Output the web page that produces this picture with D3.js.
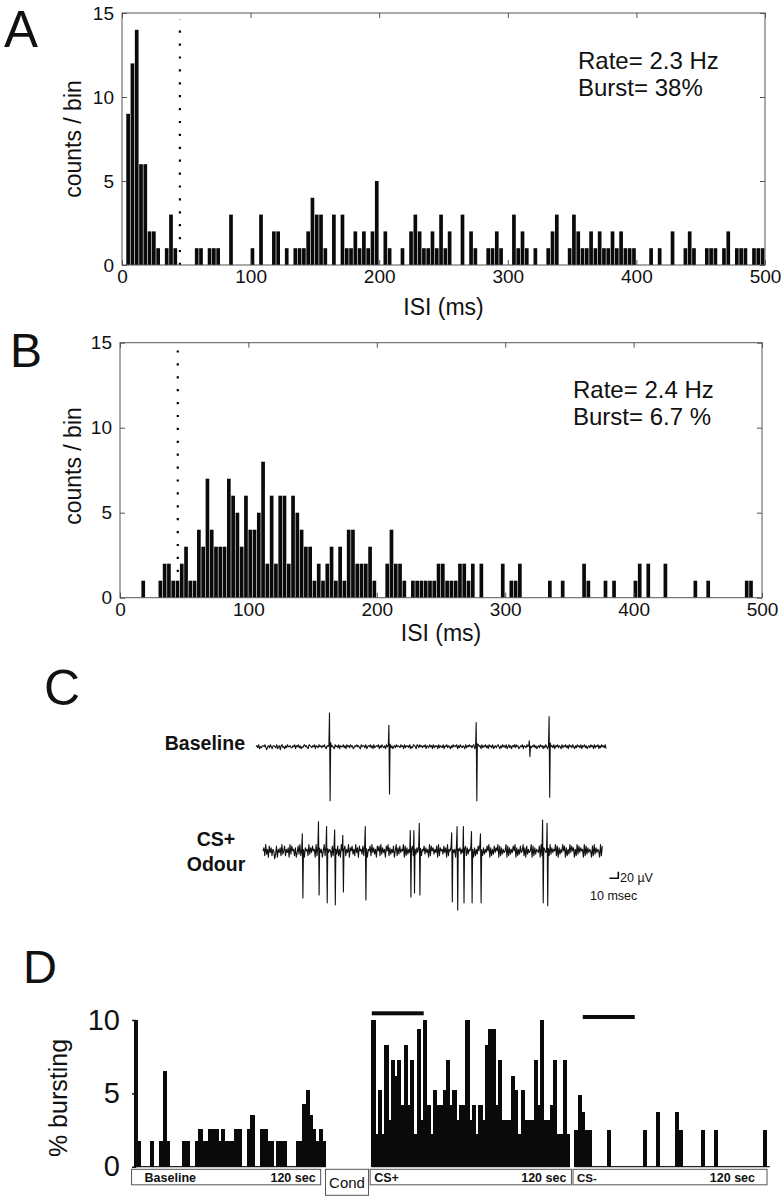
<!DOCTYPE html>
<html><head><meta charset="utf-8">
<script src="https://cdn.jsdelivr.net/npm/d3@7"></script>
<style>
body{margin:0;background:#fff}
svg{display:block}
text{font-family:"Liberation Sans",Arial,Helvetica,sans-serif;fill:#111}
</style>
</head><body>
<svg id="fig" width="784" height="1200"></svg>
<script>
// ---------- DATA ----------
// ISI histograms: counts per 3.33 ms bin, 0-500 ms (150 bins)
const binMs = 10 / 3;
const countsA = [
  0,9,12,14,6,6,2,2,1,0,  1,3,1,0,0,0,0,1,1,0,  1,1,1,0,0,3,0,0,0,0,
  1,0,3,0,0,2,2,0,1,0,    1,1,1,2,4,3,3,1,0,3,  0,3,1,1,2,1,2,1,2,5,
  0,2,1,0,0,1,0,2,3,2,    1,1,2,1,3,1,2,0,0,3,  0,2,1,0,0,1,1,2,1,0,
  0,3,1,2,1,0,1,0,0,1,    2,3,0,0,1,3,2,1,1,2,  1,2,1,1,2,1,2,1,1,1,
  0,0,0,1,0,1,0,0,2,0,    0,1,2,1,0,0,1,1,1,0,  1,2,0,1,1,1,0,1,1,1
];
const countsB = [
  0,0,0,0,0,1,0,0,0,1,    2,2,1,1,2,3,1,1,4,3,  7,4,3,3,3,7,6,5,3,6,
  4,4,5,8,2,6,2,6,6,2,    6,5,4,3,3,1,2,1,2,3,  1,3,1,4,4,2,2,2,3,1,
  0,0,2,4,2,2,1,0,1,1,    1,1,1,1,2,2,1,1,1,2,  2,1,2,0,2,0,0,0,0,2,
  0,1,1,2,0,0,0,0,0,0,    1,0,0,1,0,0,0,0,2,1,  0,0,0,1,0,1,0,0,0,0,
  1,2,0,2,0,0,0,2,0,0,    0,0,0,0,1,0,0,1,0,0,  0,0,0,0,0,0,1,1,0,0
];
const isiTicks = [0, 100, 200, 300, 400, 500];
const countTicks = [0, 5, 10, 15];
const burstCriterionMs = 45;
const statsA = ["Rate= 2.3 Hz", "Burst= 38%"];
const statsB = ["Rate= 2.4 Hz", "Burst= 6.7 %"];

// Extracellular traces (ms, µV): spikes [time, up amplitude, down amplitude]
const baselineSpikes = [[82,102,164],[148,65,143],[245,73,164],[304,18,30],[326,91,153]];
const odourSpikes = [[44,54,140],[62,91,131],[71,76,155],[80,66,161],[89,50,122],[114,76,146],
  [164,64,137],[168,64,125],[174,86,131],[210,57,152],[216,76,177],[223,76,155],[232,61,155],
  [242,54,155],[311,96,155],[316,86,164]];
const baselineDurMs = 389, odourDurMs = 377, noiseStepMs = 1;
const baselineNoise =
  "4536243554631453642554362451563425364453" +
  "3546254635243564532654354625436453546325" +
  "4635453264536254463526453645235464532645" +
  "5362454635263454625364352645463524536454" +
  "3645263545362436542653645354625436452635" +
  "4526354362546354253645462536435426354645" +
  "3562453645263546352645362453564253645362" +
  "4635254636452354625436452635463524536452" +
  "5364253645362546354263546352645364253645" +
  "3625463524536452635462536453625463524536";
const odourNoise =
  "5729361847265038164729358264719385627148" +
  "3926481756293748561928374615928374651829" +
  "4738261957382649175836294718563829471658" +
  "2947361858293746185927364815927384659182" +
  "7364918256374819265837461928573648192756" +
  "3847192658374619285736491827365849172638" +
  "5918273648591726384759182736459182736485" +
  "9172638459271836459182736548192736451829" +
  "3746592817364958172639485716293847561928" +
  "3746518293746519283746518293";
const scaleBar = {ms: 10, uV: 20};

// % bursting time course: 2 s bins, three 120 s sections
const binSec = 2;
const burstBaseline = [
  10,1.75,0,0,0,1.75,0,0,1.75,6.5,   1.75,0,0,0,0,1.75,1.75,0,0,1.75,
  2.6,1.75,1.75,2.6,2.6,2.6,1.75,2.6,1.75,1.75,  1.75,2.6,2.6,0,0,2.6,3.5,0,0,2.6,
  2.6,1.75,1.75,0,1.75,1.75,1.75,0,0,0,  1.75,1.75,4.3,5.2,3.5,2.6,1.75,2.6,1.75
];
const burstCSplus = [
  10,2.2,5.2,2.2,8.3,3.2,7.3,6.2,7.3,4.2,  8.3,4.2,7.3,2.2,9.4,3.2,10,4.2,2.2,5.2,
  4.2,4.2,5.2,7.3,4.2,5.2,3.2,4.2,4.2,10,  3.2,4.2,2.2,4.2,3.2,8.3,9.4,9.4,4.2,7.3,
  3.2,3.2,3.2,6.2,5.2,2.2,5.2,3.2,3.2,3.2,  7.3,4.2,10,3.2,3.2,4.2,7.3,2.2,2.2,7.3,
  2.2
];
const burstCSminus = [
  2.5,4.9,3.7,2.5,2.5,0,0,0,0,0,  2.5,0,0,0,0,0,0,0,0,0,  0,2.5,0,0,0,3.7,0,0,0,0,
  0,3.7,2.5,0,0,0,0,0,0,2.5,  0,0,0,2.5,0,0,0,0,0,0,  0,0,0,0,0,0,0,0,2.5,0
];
const sectionStarts = [0, 146.5, 271.7];   // seconds on the shared time axis
const sectionBoxes = [
  {name:"Baseline", from:-1.5, to:115, right:"120 sec"},
  {name:"Cond", from:118, to:144.5, right:null},
  {name:"CS+", from:145.5, to:269.5, right:"120 sec"},
  {name:"CS-", from:270.5, to:390, right:"120 sec"}
];
const odourPeriods = [[146.5, 178.5, 0], [276.5, 308.5, 1]];
const burstTicks = [0, 5, 10];

// ---------- DRAW ----------
const svg = d3.select("#fig");
const FONT = '"Liberation Sans",Arial,Helvetica,sans-serif';

function panelLetter(t, x, y, size) {
  svg.append("text").attr("x", x).attr("y", y).attr("font-size", size).text(t);
}

function histogram(counts, L, R, T, B, stats, statsX, statsY, ylabY, xlabY) {
  const x = d3.scaleLinear().domain([0, 500]).range([L, R]);
  const y = d3.scaleLinear().domain([0, 15]).range([B, T]);
  const g = svg.append("g");
  g.selectAll("rect.bar")
    .data(counts.map((c, i) => ({i, c})).filter(d => d.c > 0))
    .join("rect").attr("class", "bar")
    .attr("x", d => x(d.i * binMs))
    .attr("width", d => Math.max(0.8, x((d.i + 1) * binMs) - x(d.i * binMs) - 0.6))
    .attr("y", d => y(d.c))
    .attr("height", d => y(0) - y(d.c))
    .attr("fill", "#0a0a0a");
  g.append("line")
    .attr("x1", x(burstCriterionMs)).attr("x2", x(burstCriterionMs))
    .attr("y1", y(0)).attr("y2", y(14.6))
    .attr("stroke", "#000").attr("stroke-width", 2.2)
    .attr("stroke-dasharray", "2.2 10.7");
  g.append("rect").attr("x", L).attr("y", T).attr("width", R - L).attr("height", B - T)
    .attr("fill", "none").attr("stroke", "#555").attr("stroke-width", 1);
  function ax(gen, tr, labels) {
    const a = g.append("g").attr("transform", tr).call(gen)
      .attr("font-size", 19).attr("font-family", FONT);
    a.select(".domain").remove();
    a.selectAll("line").attr("stroke", "#555");
    a.selectAll("text").attr("fill", "#111");
    if (!labels) a.selectAll("text").remove();
  }
  ax(d3.axisBottom(x).tickValues(isiTicks).tickSizeInner(-5).tickSizeOuter(0).tickPadding(5), `translate(0,${B})`, true);
  ax(d3.axisTop(x).tickValues(isiTicks).tickSizeInner(-5).tickSizeOuter(0), `translate(0,${T})`, false);
  ax(d3.axisLeft(y).tickValues(countTicks).tickSizeInner(-5).tickSizeOuter(0).tickPadding(8), `translate(${L},0)`, true);
  ax(d3.axisRight(y).tickValues(countTicks).tickSizeInner(-5).tickSizeOuter(0), `translate(${R},0)`, false);
  g.append("text").attr("x", (L + R) / 2).attr("y", xlabY).attr("text-anchor", "middle")
    .attr("font-size", 23).text("ISI (ms)");
  g.append("text").attr("transform", `translate(81,${ylabY}) rotate(-90)`)
    .attr("text-anchor", "middle").attr("font-size", 23).text("counts / bin");
  stats.forEach((s, k) => g.append("text").attr("x", statsX).attr("y", statsY[k])
    .attr("font-size", 24).text(s));
}

panelLetter("A", 4, 47, 51);
histogram(countsA, 122, 765, 13, 265, statsA, 578, [69, 96], 139, 315);
panelLetter("B", 10, 367, 48);
histogram(countsB, 120, 762, 342.7, 597.7, statsB, 573, [398, 425], 466, 641);

// ---------- C: traces ----------
panelLetter("C", 44, 705, 50);
const kx = 0.9, ky = 0.33;
function trace(noise, spikes, dur, x0, y0, amp, mid) {
  const xs = d3.scaleLinear().domain([0, dur]).range([x0, x0 + dur * kx]);
  const ys = d3.scaleLinear().domain([-200, 200]).range([y0 + 200 * ky, y0 - 200 * ky]);
  let pts = [];
  for (let k = 0; k < noise.length; k++) {
    const t = k * noiseStepMs;
    if (t > dur) break;
    if (spikes.some(s => t > s[0] - 0.8 && t < s[0] + 1.3)) continue;
    pts.push([t, (+noise[k] - mid) * amp]);
  }
  spikes.forEach(s => {
    pts.push([s[0] - 0.35, s[1]]);
    pts.push([s[0] + 0.35, -s[2]]);
    pts.push([s[0] + 0.95, s[1] * 0.12]);
  });
  pts.sort((a, b) => a[0] - b[0]);
  svg.append("path").datum(pts)
    .attr("d", d3.line().x(d => xs(d[0])).y(d => ys(d[1])))
    .attr("fill", "none").attr("stroke", "#111").attr("stroke-width", 1.1)
    .attr("stroke-linejoin", "round");
}
trace(baselineNoise, baselineSpikes, baselineDurMs, 256, 746.7, 3, 4);
trace(odourNoise, odourSpikes, odourDurMs, 263, 851.7, 4.8, 4.5);
svg.append("text").attr("x", 245).attr("y", 750).attr("text-anchor", "end")
  .attr("font-size", 19.5).attr("font-weight", "bold").text("Baseline");
svg.append("text").attr("x", 216).attr("y", 846).attr("text-anchor", "middle")
  .attr("font-size", 19.5).attr("font-weight", "bold").text("CS+");
svg.append("text").attr("x", 216).attr("y", 871).attr("text-anchor", "middle")
  .attr("font-size", 19.5).attr("font-weight", "bold").text("Odour");
// scale bar
const sbx = 618.3, sby = 878.3;
svg.append("path")
  .attr("d", `M${sbx - scaleBar.ms * kx},${sby}H${sbx}V${sby - scaleBar.uV * ky}`)
  .attr("fill", "none").attr("stroke", "#111").attr("stroke-width", 1.6);
svg.append("text").attr("x", 620).attr("y", 882).attr("font-size", 12.5).text("20 µV");
svg.append("text").attr("x", 590).attr("y", 900).attr("font-size", 12.5).text("10 msec");

// ---------- D: % bursting ----------
panelLetter("D", 23, 983, 47);
const xD = d3.scaleLinear().domain([0, 390]).range([134, 767]);
const yD = d3.scaleLinear().domain([0, 10]).range([1166.7, 1020]);
const gD = svg.append("g");
[burstBaseline, burstCSplus, burstCSminus].forEach((arr, s) => {
  const st = sectionStarts[s];
  gD.append("line").attr("x1", xD(st)).attr("x2", xD(st + arr.length * binSec))
    .attr("y1", yD(0)).attr("y2", yD(0)).attr("stroke", "#222").attr("stroke-width", 1.2);
  gD.selectAll(null)
    .data(arr.map((v, i) => ({v, i})).filter(d => d.v > 0))
    .join("rect")
    .attr("shape-rendering", "crispEdges")
    .attr("x", d => Math.floor(xD(st + d.i * binSec)))
    .attr("width", d => Math.ceil(xD(st + (d.i + 1) * binSec)) - Math.floor(xD(st + d.i * binSec)))
    .attr("y", d => Math.round(yD(d.v)))
    .attr("height", d => Math.round(yD(0)) - Math.round(yD(d.v)))
    .attr("fill", "#0a0a0a");
});
const aD = gD.append("g").attr("transform", "translate(136,0)")
  .call(d3.axisLeft(yD).tickValues(burstTicks).tickSizeInner(4).tickSizeOuter(0).tickPadding(12))
  .attr("font-size", 29).attr("font-family", FONT);
aD.select(".domain").attr("stroke", "#111").attr("stroke-width", 1.5);
aD.selectAll("line").attr("stroke", "#111").attr("stroke-width", 1.5);
aD.selectAll("text").attr("fill", "#111");
svg.append("text").attr("transform", "translate(67,1098) rotate(-90)")
  .attr("text-anchor", "middle").attr("font-size", 25).text("% bursting");
// odour presentation bars
odourPeriods.forEach(p => {
  gD.append("rect").attr("x", xD(p[0])).attr("width", xD(p[1]) - xD(p[0]))
    .attr("y", p[2] ? 1015 : 1011.3).attr("height", 4).attr("fill", "#0a0a0a");
});
// section label boxes
sectionBoxes.forEach(b => {
  const cond = b.right === null;
  const h = cond ? 26 : 15.5;
  gD.append("rect").attr("x", xD(b.from)).attr("y", 1169.3)
    .attr("width", xD(b.to) - xD(b.from)).attr("height", h)
    .attr("fill", "#fff").attr("stroke", "#555").attr("stroke-width", 1);
  if (cond) {
    gD.append("text").attr("x", (xD(b.from) + xD(b.to)) / 2).attr("y", 1187.5)
      .attr("text-anchor", "middle").attr("font-size", 15).text(b.name);
  } else {
    gD.append("text").attr("x", xD(b.from) + (b.name === "Baseline" ? 13 : 4)).attr("y", 1181.5)
      .attr("font-size", b.name === "CS-" ? 11.5 : 12.5).attr("font-weight", "bold").text(b.name);
    gD.append("text").attr("x", xD(b.to) - (b.name === "CS-" ? 12 : 5)).attr("y", 1181.5)
      .attr("text-anchor", "end").attr("font-size", 12.5).attr("font-weight", "bold").text(b.right);
  }
});
</script>
</body></html>
